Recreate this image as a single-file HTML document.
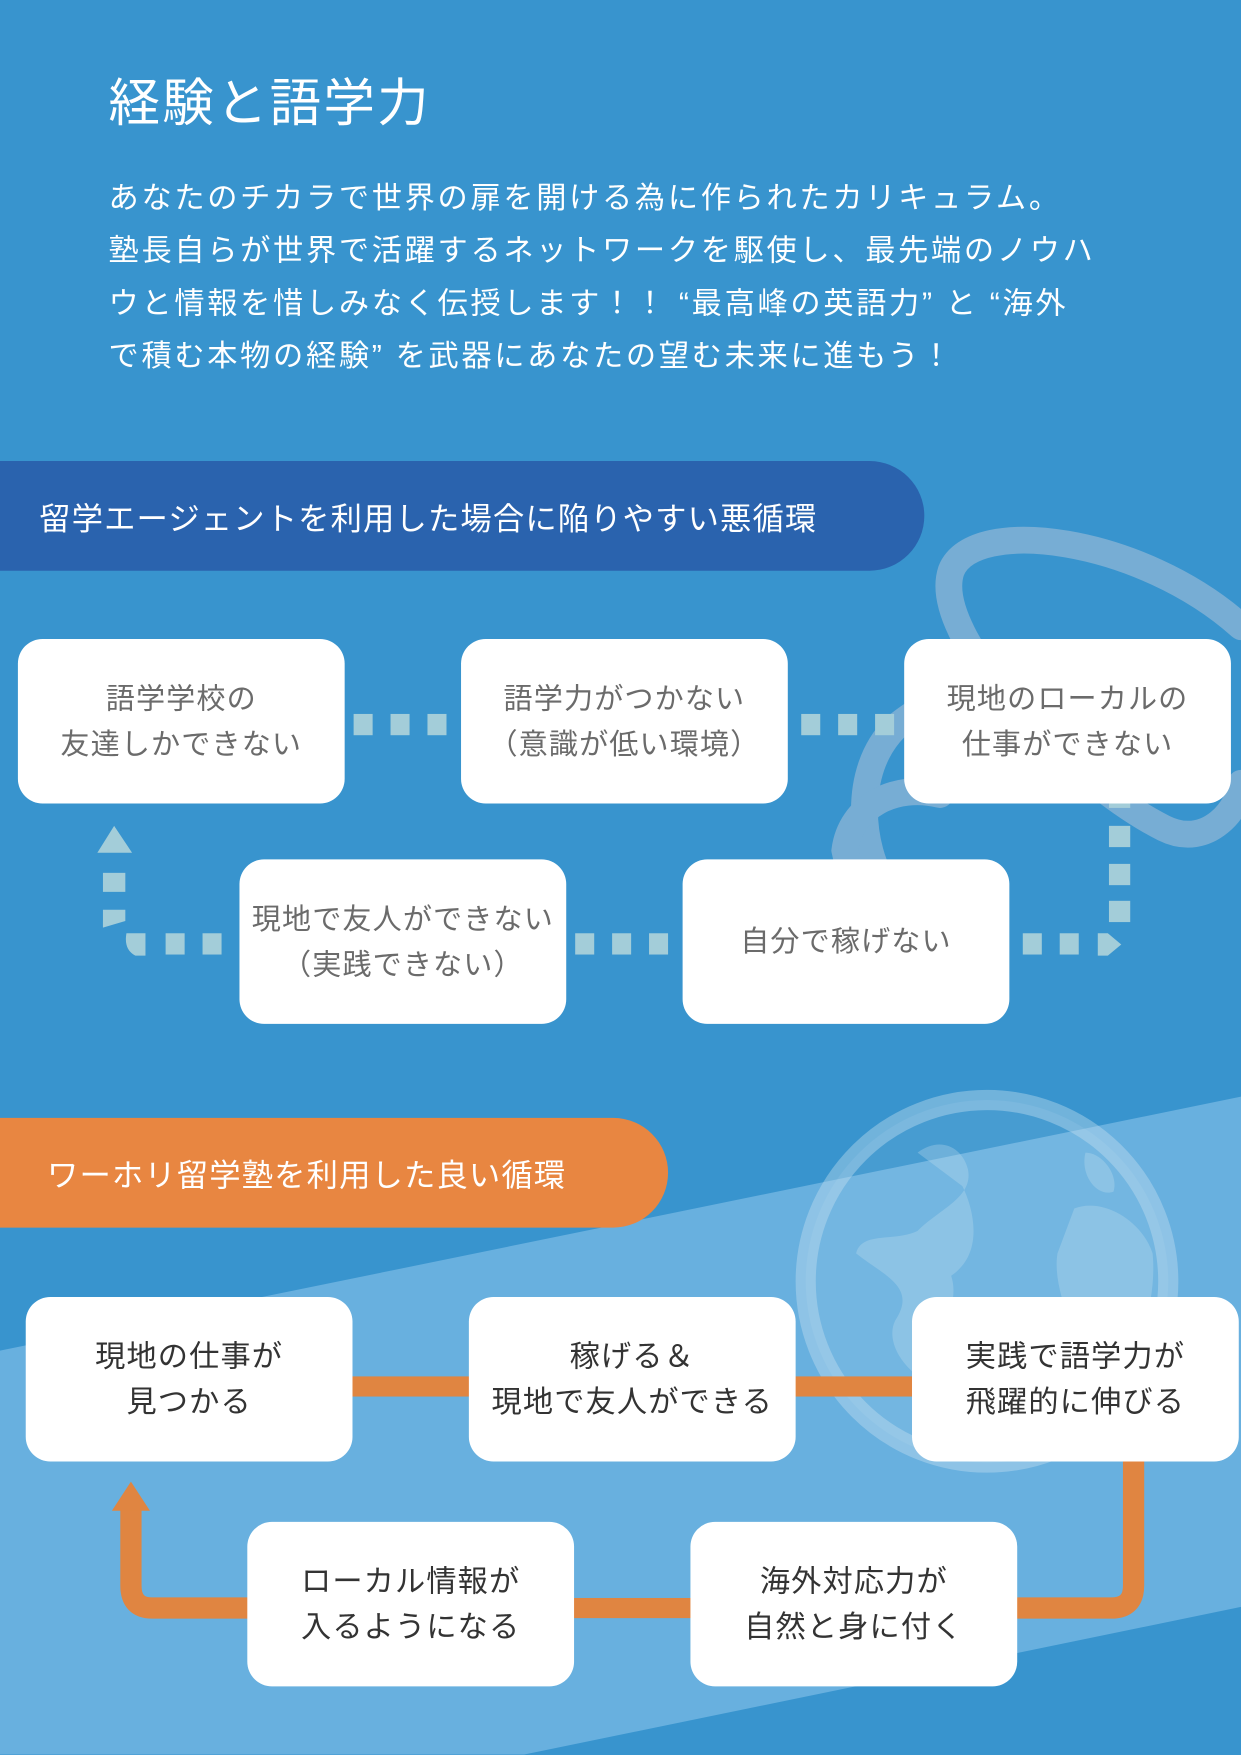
<!DOCTYPE html>
<html><head><meta charset="utf-8"><style>
html,body{margin:0;padding:0;width:1241px;height:1755px;overflow:hidden;background:#3894ce}
#w{position:absolute;left:0;top:0;width:1109px;height:1568px;transform:scale(1.11903);transform-origin:0 0;font-family:"Liberation Sans","Noto Sans CJK JP",sans-serif}
.a{position:absolute}
.box{position:absolute;background:#fff;border-radius:22px;width:292px;height:147px;display:flex;align-items:center;justify-content:center;text-align:center;font-size:26px;line-height:41px;letter-spacing:1px}
.g{color:#6b6b6b}.d{color:#333}
.sq{position:absolute;background:#a3cdd9;width:17px;height:19px}
.o{position:absolute;background:#e08541}
</style></head><body><div id="w">
<svg class="a" style="left:0;top:0" width="1109" height="1568">
<polygon points="0,1207 1109,980 1109,1436 468,1568 0,1568" fill="#68b0df"/>
<g fill="none" stroke="#77add4" stroke-width="24" stroke-linecap="round">
<path d="M1109,560 C1020,480 870,460 850,510 C830,570 960,700 1040,740 C1080,760 1109,720 1109,700"/>
<path d="M1030,630 C960,590 860,600 800,650 C760,690 770,760 790,790"/>
<path d="M840,710 C800,700 760,720 755,760 C760,790 790,800 800,790"/>
</g>
<circle cx="882" cy="1145" r="162" fill="rgba(255,255,255,0.08)" stroke="rgba(200,225,240,0.4)" stroke-width="18"/>
<path d="M820,1030 C840,1015 860,1025 865,1045 C870,1070 840,1080 820,1100 C800,1110 770,1100 765,1120 C790,1140 820,1150 800,1180 C790,1200 810,1230 840,1240 C830,1200 860,1170 850,1140 C880,1120 870,1080 860,1060 Z M960,1080 C985,1070 1020,1090 1030,1120 C1035,1170 1010,1230 990,1240 C960,1200 940,1150 945,1120 Z M970,1030 C985,1030 1000,1050 995,1065 C980,1070 965,1050 970,1030 Z" fill="rgba(200,225,240,0.3)"/>
</svg>
<div class="a" style="left:97px;top:56px;font-size:46px;color:#fff;letter-spacing:2px">経験と語学力</div>
<div class="a" style="left:97px;top:154px;width:960px;font-size:27px;line-height:47px;color:#fff;letter-spacing:2.4px">あなたのチカラで世界の扉を開ける為に作られたカリキュラム。<br>塾長自らが世界で活躍するネットワークを駆使し、最先端のノウハ<br>ウと情報を惜しみなく伝授します！！ “最高峰の英語力” と “海外<br>で積む本物の経験” を武器にあなたの望む未来に進もう！</div>
<div class="a" style="left:0;top:412px;width:826px;height:98px;background:#2a63ae;border-radius:0 49px 49px 0"></div>
<div class="a" style="left:35px;top:442px;font-size:28px;color:#fff;letter-spacing:1px">留学エージェントを利用した場合に陥りやすい悪循環</div>

<div class="sq" style="left:316px;top:638px"></div><div class="sq" style="left:349px;top:638px"></div><div class="sq" style="left:382px;top:638px"></div>
<div class="sq" style="left:716px;top:638px"></div><div class="sq" style="left:749px;top:638px"></div><div class="sq" style="left:782px;top:638px"></div>
<div class="sq" style="left:991px;top:712px;width:19px;height:10px"></div><div class="sq" style="left:991px;top:738px;width:19px"></div><div class="sq" style="left:991px;top:772px;width:19px"></div><div class="sq" style="left:991px;top:805px;width:19px"></div>
<div class="sq" style="left:914px;top:834px"></div><div class="sq" style="left:947px;top:834px"></div>
<svg class="a" style="left:978px;top:828px" width="30" height="30"><path d="M3,6 L12,6 L24,16 L12,26 L3,26 Z" fill="#a3cdd9"/></svg>
<div class="sq" style="left:514px;top:834px"></div><div class="sq" style="left:547px;top:834px"></div><div class="sq" style="left:580px;top:834px"></div>
<div class="sq" style="left:148px;top:834px"></div><div class="sq" style="left:181px;top:834px"></div>
<svg class="a" style="left:85px;top:735px" width="50" height="125"><path d="M2,27 L17,3 L33,27 Z" fill="#a3cdd9"/><rect x="7" y="45" width="20" height="17" fill="#a3cdd9"/><path d="M7,78 L27,78 L27,88 L7,94 Z" fill="#a3cdd9"/><path d="M28,99 L45,99 L45,119 L36,119 C30,116 26,110 28,99 Z" fill="#a3cdd9"/></svg>

<div class="box g" style="left:16px;top:571px">語学学校の<br>友達しかできない</div>
<div class="box g" style="left:412px;top:571px">語学力がつかない<br>（意識が低い環境）</div>
<div class="box g" style="left:808px;top:571px">現地のローカルの<br>仕事ができない</div>
<div class="box g" style="left:214px;top:768px">現地で友人ができない<br>（実践できない）</div>
<div class="box g" style="left:610px;top:768px">自分で稼げない</div>

<div class="a" style="left:0;top:999px;width:597px;height:98px;background:#e88641;border-radius:0 49px 49px 0"></div>
<div class="a" style="left:42px;top:1029px;font-size:28px;color:#fff;letter-spacing:1px">ワーホリ留学塾を利用した良い循環</div>

<div class="o" style="left:310px;top:1230px;width:115px;height:18px"></div>
<div class="o" style="left:705px;top:1230px;width:115px;height:18px"></div>
<div class="o" style="left:505px;top:1428px;width:120px;height:18px"></div>
<svg class="a" style="left:90px;top:1300px" width="950" height="160"><path d="M923,0 L923,117 Q923,137 903,137 L800,137" fill="none" stroke="#e08541" stroke-width="19"/><path d="M140,137 L46,137 Q27,137 27,117 L27,45" fill="none" stroke="#e08541" stroke-width="19"/><path d="M10,50 L27,24 L44,50 Z" fill="#e08541"/></svg>

<div class="box d" style="left:23px;top:1159px;font-size:27px">現地の仕事が<br>見つかる</div>
<div class="box d" style="left:419px;top:1159px;font-size:27px">稼げる＆<br>現地で友人ができる</div>
<div class="box d" style="left:815px;top:1159px;font-size:27px">実践で語学力が<br>飛躍的に伸びる</div>
<div class="box d" style="left:221px;top:1360px;font-size:27px">ローカル情報が<br>入るようになる</div>
<div class="box d" style="left:617px;top:1360px;font-size:27px">海外対応力が<br>自然と身に付く</div>
</div></body></html>
